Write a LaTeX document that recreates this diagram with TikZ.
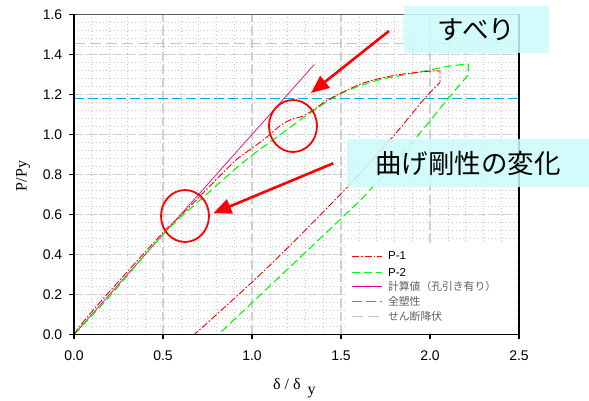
\documentclass[tikz,border=0pt]{standalone}
\usepackage{fontspec}
\setmainfont{Liberation Sans}
\newfontfamily\jafont{Noto Sans CJK JP}
\newfontfamily\serifont{Liberation Serif}
\usepackage{tikz}
\usetikzlibrary{arrows.meta,positioning,shapes.geometric}
\definecolor{boxcyan}{RGB}{204,250,250}
\definecolor{leggray}{RGB}{95,95,95}
\tikzset{
	>={Triangle[length=18pt,width=15pt]},
	tick/.style={font=\fontsize{14}{16}\selectfont, inner sep=0pt},
	legtext/.style={inner sep=0pt, font=\fontsize{11.5}{13}\selectfont},
	legja/.style={inner sep=0pt, text=leggray, font=\jafont\fontsize{10.8}{13}\selectfont}
}

\begin{document}
\begin{tikzpicture}[x=178pt,y=200pt]
  \tikzset{
    minor/.style={gray!45, line width=0.6pt, dash pattern=on 0.6pt off 3pt},
    major/.style={gray!38, line width=1.2pt, dash pattern=on 9pt off 4pt},
    axisline/.style={black, line width=1.1pt},
    pone/.style={red, line width=0.9pt, dash pattern=on 7pt off 2pt on 1.5pt off 2pt},
    ptwo/.style={green, line width=1.1pt, dash pattern=on 8pt off 4pt},
    calc/.style={magenta, line width=0.7pt},
    plastic/.style={cyan, line width=1.6pt, dash pattern=on 10pt off 4pt},
    shear/.style={gray!45, line width=1.2pt, dash pattern=on 11pt off 5pt},
    note/.style={fill=boxcyan, fill opacity=0.85, text opacity=1, inner sep=0pt,
          font=\jafont\fontsize{26.5}{30}\selectfont},
    ring/.style={ellipse, draw=red, line width=1.8pt, minimum width=48pt,
          minimum height=52pt, inner sep=0pt},
    pointer/.style={->, red, line width=2.6pt}
  }
  \useasboundingbox (-0.4157,-0.3325) rectangle (2.8933,1.6725);

  \draw[minor] (0,0) grid[xstep=0.1,ystep=0.04] (2.5,1.6);
  \draw[major] (0,0) grid[xstep=0.5,ystep=0.2] (2.5,1.6);

  \draw[shear] (0,1.456) -- (2.5,1.456);
  \draw[plastic] (0,1.18) -- (2.5,1.18);

  % test curves
  \draw[calc] (0,0) -- (1.35,1.35);
  \draw[ptwo] plot[smooth] coordinates {(0,0) (0.2,0.19) (0.5,0.5) (0.75,0.705)
      (0.97,0.875) (1.16,1.0) (1.33,1.11) (1.5,1.205) (1.7,1.27) (1.93,1.31)
      (2.11,1.342) (2.215,1.352)}
    -- (2.215,1.298)
    -- plot[smooth] coordinates {(2.215,1.298) (2.095,1.1725) (1.888,0.9475)
      (1.663,0.723) (1.532,0.606) (0.811,0)};
  \draw[pone] plot[smooth] coordinates {(0,0) (0.06,0.072) (0.2,0.215) (0.5,0.51)
      (0.6,0.595) (0.85,0.82) (0.92,0.88) (1.06,0.97) (1.16,1.045) (1.225,1.077)
      (1.28,1.09) (1.34,1.12) (1.44,1.18) (1.625,1.257) (1.81,1.297) (2.0,1.317)
      (2.056,1.317)}
    -- (2.056,1.26)
    -- plot[smooth] coordinates {(2.056,1.26) (1.962,1.1725) (1.79,0.9875)
      (1.51,0.713) (1.07,0.32) (0.676,0)};

  % legend
  \fill[white] (1.52,0.008) rectangle (2.49,0.455);
  \draw[pone] (1.562,0.3925) -- (1.73,0.3925) coordinate (l1);
  \draw[ptwo] (1.562,0.311) -- (1.73,0.311) coordinate (l2);
  \draw[calc] (1.562,0.239) -- (1.73,0.239) coordinate (l3);
  \draw[plastic] (1.562,0.164) -- (1.73,0.164) coordinate (l4);
  \draw[shear] (1.562,0.089) -- (1.73,0.089) coordinate (l5);
  \node[legtext, right=6pt of l1] (t1) {P-1};
  \node[legtext, right=6pt of l2] (t2) {P-2};
  \node[legja, right=6pt of l3] (t3) {計算値（孔引き有り）};
  \node[legja, right=6pt of l4] (t4) {全塑性};
  \node[legja, right=6pt of l5] (t5) {せん断降伏};

  % frame and ticks
  \draw[gray!70!black, line width=1pt] (0,1.6) -- (2.5,1.6);
  \draw[axisline] (0,1.6) -- (0,0) -- (2.5,0) -- (2.5,1.6);
  \foreach \x in {0.0,0.5,1.0,1.5,2.0,2.5} {
    \draw[axisline] (\x,0) -- ++(0,-5pt);
    \node[tick, anchor=north] at (\x,-0.08) {\x};
  }
  \foreach \y in {0.0,0.2,0.4,0.6,0.8,1.0,1.2,1.4,1.6} {
    \draw[axisline] (0,\y) -- ++(-5pt,0);
    \node[tick, anchor=east] at (-0.065,\y) {\y};
  }
  \node[rotate=90, font=\serifont\fontsize{16}{18}\selectfont] (ylab)
    at (-0.2865,0.7925) {P/Py};
  \node[anchor=base west, inner sep=0pt, font=\serifont\fontsize{16}{18}\selectfont]
    (xlab) at (1.118,-0.2775) {δ / δ\hspace{7pt}\raisebox{-5pt}{y}};

  % notes
  \node[note, minimum width=145pt, minimum height=47pt] (slip) at (2.2612,1.525) {すべり};
  \node[note, minimum width=242pt, minimum height=48pt] (stiff) at (2.2135,0.8575) {曲げ剛性の変化};

  \node[ring] (r1) at (0.6236,0.5925) {};
  \node[ring] (r2) at (1.2303,1.0425) {};

  \coordinate (a1s) at (1.7697,1.5175);
  \coordinate (a1e) at (1.3315,1.2075);
  \coordinate (a2s) at (1.4567,0.856);
  \coordinate (a2e) at (0.7826,0.606);
  \draw[pointer] (a1s) -- (a1e);
  \draw[pointer] (a2s) -- (a2e);
\end{tikzpicture}
\end{document}
